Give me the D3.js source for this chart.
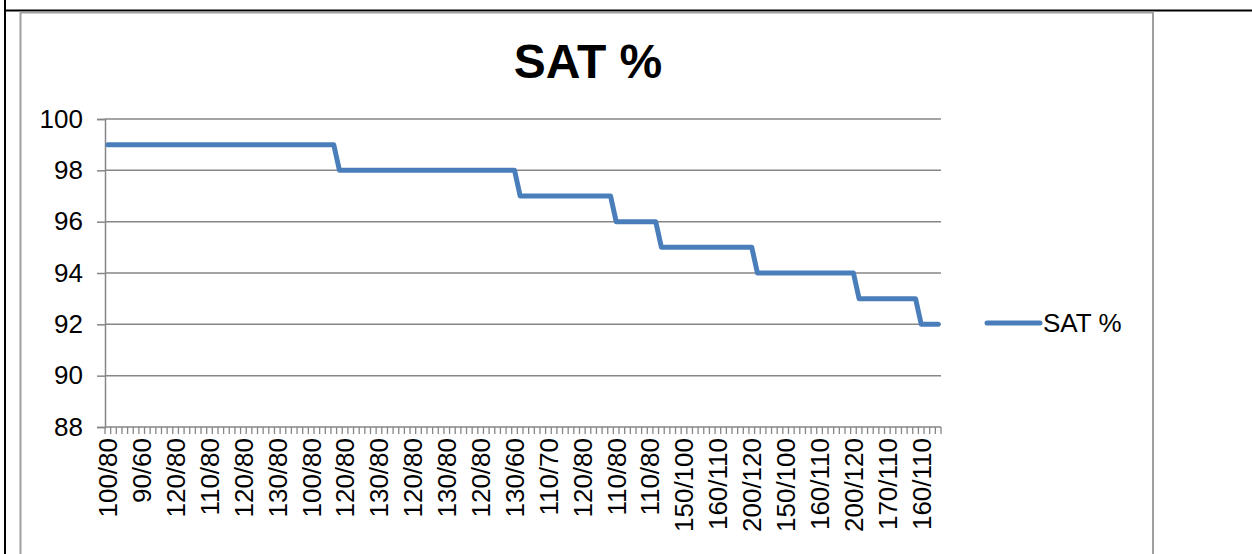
<!DOCTYPE html>
<html>
<head>
<meta charset="utf-8">
<script src="https://cdn.jsdelivr.net/npm/d3@7"></script>
<style>
  html, body { margin: 0; padding: 0; background: #fff; }
  svg { display: block; font-family: "Liberation Sans", Arial, sans-serif; }
</style>
</head>
<body>
<svg id="chart" width="1252" height="554"></svg>
<script>
// ---- data ----
const chartTitle = "SAT %";
const seriesName = "SAT %";
// readable tick labels (every 6th category is labelled)
const tickLabels = [
  "100/80","90/60","120/80","110/80","120/80","130/80","100/80","120/80",
  "130/80","120/80","130/80","120/80","130/60","110/70","120/80","110/80",
  "110/80","150/100","160/110","200/120","150/100","160/110","200/120",
  "170/110","160/110"
];
const labelEvery = 6;
const satValues = [
  99,99,99,99,99,99,99,99,99,99,
  99,99,99,99,99,99,99,99,99,99,
  99,99,99,99,99,99,99,99,99,99,
  99,99,99,99,99,99,99,99,99,99,
  99,
  98,98,98,98,98,98,98,98,98,98,
  98,98,98,98,98,98,98,98,98,98,
  98,98,98,98,98,98,98,98,98,98,
  98,98,
  97,97,97,97,97,97,97,97,97,97,
  97,97,97,97,97,97,97,
  96,96,96,96,96,96,96,96,
  95,95,95,95,95,95,95,95,95,95,
  95,95,95,95,95,95,95,
  94,94,94,94,94,94,94,94,94,94,
  94,94,94,94,94,94,94,94,
  93,93,93,93,93,93,93,93,93,93,
  93,
  92,92,92,92
];
const yTicks = [88, 90, 92, 94, 96, 98, 100];

// ---- layout ----
const svg = d3.select("#chart");
const plot = { left: 105, right: 941, top: 119, bottom: 427 };
const axisColor = "#868686";
const lineColor = "#4a7ebb";
const labelSize = 26;

// frames
svg.append("line").attr("x1", 5).attr("x2", 1252).attr("y1", 10.5).attr("y2", 10.5)
  .attr("stroke", "#000").attr("stroke-width", 2);
svg.append("line").attr("x1", 5).attr("x2", 5).attr("y1", 0).attr("y2", 554)
  .attr("stroke", "#000").attr("stroke-width", 2);
svg.append("rect").attr("x", 20.5).attr("y", 12.5).attr("width", 1132.5).attr("height", 560)
  .attr("fill", "none").attr("stroke", "#a0a0a0").attr("stroke-width", 2);

const idx = satValues.map((d, i) => i);
const x = d3.scaleBand().domain(idx).range([plot.left, plot.right]).padding(0);
const y = d3.scaleLinear().domain([88, 100]).range([plot.bottom, plot.top]);
const cx = i => x(i) + x.bandwidth() / 2;

// gridlines
svg.append("g").selectAll("line").data(yTicks.filter(t => t !== 88)).join("line")
  .attr("x1", plot.left).attr("x2", plot.right)
  .attr("y1", d => y(d)).attr("y2", d => y(d))
  .attr("stroke", axisColor).attr("stroke-width", 1.5);

// y axis
const yAxis = svg.append("g").attr("transform", `translate(${plot.left},0)`)
  .call(d3.axisLeft(y).tickValues(yTicks).tickSize(8).tickPadding(14).tickFormat(d3.format("d")));
yAxis.select(".domain").attr("stroke", axisColor).attr("stroke-width", 1.5);
yAxis.selectAll(".tick line").attr("stroke", axisColor).attr("stroke-width", 1.5);
yAxis.selectAll(".tick text").attr("font-size", labelSize).attr("fill", "#000")
  .attr("font-family", "Liberation Sans, Arial, sans-serif");

// x axis: tick marks at category boundaries
const boundaries = d3.range(satValues.length + 1).map(i => plot.left + i * x.bandwidth());
svg.append("g").selectAll("line").data(boundaries).join("line")
  .attr("x1", d => d).attr("x2", d => d)
  .attr("y1", plot.bottom).attr("y2", plot.bottom + 7)
  .attr("stroke", axisColor).attr("stroke-width", 1.3);
svg.append("line").attr("x1", plot.left).attr("x2", plot.right)
  .attr("y1", plot.bottom).attr("y2", plot.bottom)
  .attr("stroke", axisColor).attr("stroke-width", 1.5);

// x labels
svg.append("g").selectAll("text").data(tickLabels).join("text")
  .attr("transform", (d, k) => `translate(${cx(k * labelEvery)},${plot.bottom + 11}) rotate(-90)`)
  .attr("text-anchor", "end")
  .attr("dy", "0.36em")
  .attr("font-size", labelSize)
  .attr("fill", "#000")
  .text(d => d);

// line
const line = d3.line().x((d, i) => cx(i)).y(d => y(d));
svg.append("path").datum(satValues)
  .attr("d", line)
  .attr("fill", "none")
  .attr("stroke", lineColor)
  .attr("stroke-width", 5)
  .attr("stroke-linejoin", "round")
  .attr("stroke-linecap", "round");

// title
svg.append("text").attr("x", 588).attr("y", 78).attr("text-anchor", "middle")
  .attr("font-size", 48).attr("font-weight", "bold").attr("fill", "#000")
  .text(chartTitle);

// legend
svg.append("line").attr("x1", 987).attr("x2", 1040).attr("y1", 323).attr("y2", 323)
  .attr("stroke", lineColor).attr("stroke-width", 5).attr("stroke-linecap", "round");
svg.append("text").attr("x", 1043).attr("y", 323).attr("dy", "0.36em")
  .attr("font-size", labelSize).attr("fill", "#000").text(seriesName);
</script>
</body>
</html>
